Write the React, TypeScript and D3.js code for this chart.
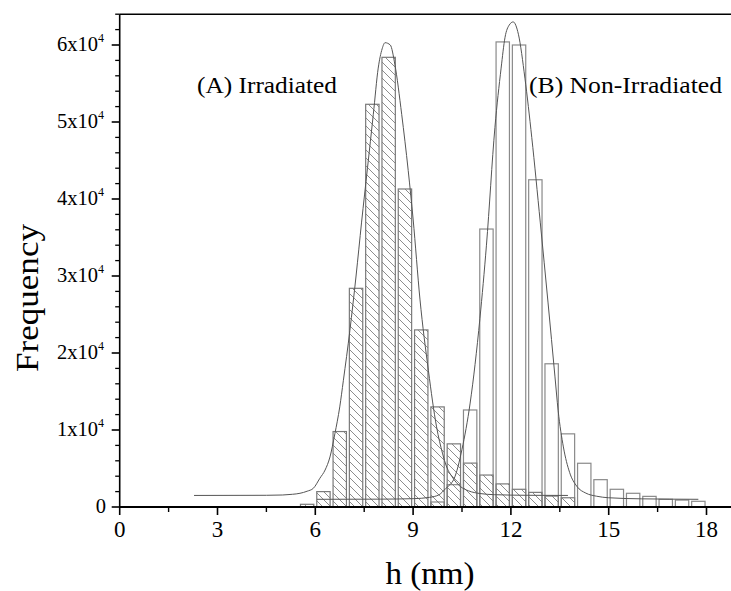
import React from "react";
import * as d3 from "d3";

// ---- data ----
const binCentersA = [5.75, 6.25, 6.75, 7.25, 7.75, 8.25, 8.75, 9.25, 9.75, 10.25, 10.75, 11.25, 11.75, 12.25, 12.75, 13.25, 13.75];
const freqA = [350, 2000, 9800, 28400, 52300, 58400, 41300, 23000, 13000, 8200, 5700, 4150, 3000, 2300, 1900, 1420, 1200];

const binCentersB = [9.75, 10.25, 10.75, 11.25, 11.75, 12.25, 12.75, 13.25, 13.75, 14.25, 14.75, 15.25, 15.75, 16.25, 16.75, 17.25, 17.75];
const freqB = [650, 2900, 12600, 36100, 60400, 60000, 42500, 18600, 9500, 5680, 3550, 2300, 1780, 1380, 1000, 900, 740];

const fitAx = [2.28, 4.5, 5.0, 5.3, 5.53, 5.75, 5.94, 6.14, 6.3, 6.45, 6.6, 6.75, 6.86, 7.06, 7.25, 7.42, 7.6, 7.78, 7.93, 8.05, 8.14, 8.3, 8.44, 8.65, 8.85, 9.0, 9.21, 9.47, 9.72, 9.9, 10.03, 10.2, 10.44, 10.7, 11.05, 11.5, 12.5, 13.75];
const fitAy = [1500, 1520, 1560, 1650, 1780, 2050, 2430, 3730, 4800, 6500, 9500, 13000, 16400, 22900, 30000, 37000, 44000, 51000, 57000, 59500, 60300, 60000, 57500, 51000, 43700, 37400, 27000, 17700, 10400, 7000, 5200, 3900, 2700, 2100, 1750, 1600, 1520, 1500];

const fitBx = [6.05, 8.0, 9.0, 9.5, 9.8, 10.0, 10.13, 10.25, 10.5, 10.75, 11.05, 11.25, 11.51, 11.7, 11.82, 11.95, 12.07, 12.23, 12.43, 12.64, 12.9, 13.14, 13.35, 13.45, 13.61, 13.8, 14.02, 14.3, 14.63, 15.0, 16.0, 17.75];
const fitBy = [1000, 1020, 1080, 1250, 1600, 2400, 2900, 3600, 7500, 13500, 24500, 34000, 49300, 57000, 61000, 62600, 63000, 61400, 55700, 48000, 37000, 26500, 17000, 12500, 7800, 4500, 2700, 1800, 1400, 1200, 1060, 1000];

const xMajorTicks = [0, 3, 6, 9, 12, 15, 18];
const xMinorTicks = [1.5, 4.5, 7.5, 10.5, 13.5, 16.5];
const yMajorTicks = [0, 10000, 20000, 30000, 40000, 50000, 60000];
const yTickMultipliers = ["0", "1", "2", "3", "4", "5", "6"];

const labelA = "(A) Irradiated";
const labelB = "(B) Non-Irradiated";
const xTitle = "h (nm)";
const yTitle = "Frequency";

// ---- layout ----
const W = 731;
const H = 591;
const x0 = 119.7;
const pxPerUnit = 32.6;
const yBase = 507;
const pxPer1e4 = 77;
const yMaxVal = 64000;
const xMaxVal = (W - x0) / pxPerUnit;

const FONT = "'Liberation Serif', 'Times New Roman', serif";

export default function App() {
  const x = d3.scaleLinear().domain([0, xMaxVal]).range([x0, W]);
  const y = d3.scaleLinear().domain([0, yMaxVal]).range([yBase, yBase - (yMaxVal / 10000) * pxPer1e4]);
  const yTop = y(yMaxVal);

  const yMinor = d3.range(2000, yMaxVal + 1, 2000).filter((v) => v % 10000 !== 0);

  const barW = 0.41;
  const line = d3
    .line<[number, number]>()
    .x((d) => x(d[0]))
    .y((d) => y(d[1]))
    .curve(d3.curveMonotoneX);

  const fitA = fitAx.map((v, i) => [v, fitAy[i]] as [number, number]);
  const fitB = fitBx.map((v, i) => [v, fitBy[i]] as [number, number]);

  return (
    <svg
      width={W}
      height={H}
      style={{ position: "absolute", left: 0, top: 0, background: "#fff" }}
      fontFamily={FONT}
    >
      <defs>
        <pattern id="hatch" patternUnits="userSpaceOnUse" width={8} height={8}>
          <path d="M0,0 L8,8 M-2,6 L2,10 M6,-2 L10,2" stroke="#707070" strokeWidth={0.8} />
        </pattern>
      </defs>
      <rect x={0} y={0} width={W} height={H} fill="#fff" />

      {/* Non-irradiated bars */}
      {binCentersB.map((c, i) => (
        <rect
          key={"b" + i}
          x={x(c - barW / 2)}
          y={y(freqB[i])}
          width={x(c + barW / 2) - x(c - barW / 2)}
          height={yBase - y(freqB[i])}
          fill="none"
          stroke="#8a8a8a"
          strokeWidth={1.2}
        />
      ))}

      {/* Irradiated bars (hatched) */}
      {binCentersA.map((c, i) => (
        <rect
          key={"a" + i}
          x={x(c - barW / 2)}
          y={y(freqA[i])}
          width={x(c + barW / 2) - x(c - barW / 2)}
          height={yBase - y(freqA[i])}
          fill="url(#hatch)"
          stroke="#7a7a7a"
          strokeWidth={1.2}
        />
      ))}

      {/* Fit curves */}
      <path d={line(fitA) || ""} fill="none" stroke="#555" strokeWidth={1} />
      <path d={line(fitB) || ""} fill="none" stroke="#555" strokeWidth={1} />

      {/* Frame / axes */}
      <line x1={x0} x2={W} y1={yTop} y2={yTop} stroke="#000" strokeWidth={1.6} />
      <line x1={x0} x2={x0} y1={yTop} y2={yBase} stroke="#000" strokeWidth={1.6} />
      <line x1={x0} x2={W} y1={yBase} y2={yBase} stroke="#000" strokeWidth={2} />

      {/* X ticks */}
      {xMajorTicks.map((t) => (
        <g key={"xt" + t}>
          <line x1={x(t)} x2={x(t)} y1={yBase} y2={yBase + 8} stroke="#000" strokeWidth={1.6} />
          <text x={x(t)} y={537} textAnchor="middle" fontSize={23} fill="#000">
            {t}
          </text>
        </g>
      ))}
      {xMinorTicks.map((t) => (
        <line key={"xm" + t} x1={x(t)} x2={x(t)} y1={yBase} y2={yBase + 5} stroke="#000" strokeWidth={1.4} />
      ))}

      {/* Y ticks */}
      {yMajorTicks.map((t, i) => (
        <g key={"yt" + t}>
          <line x1={x0 - 8} x2={x0} y1={y(t)} y2={y(t)} stroke="#000" strokeWidth={1.6} />
          <text x={t === 0 ? 106 : 104} y={y(t) + 6} textAnchor="end" fontSize={20.5} fill="#000">
            {t === 0 ? (
              "0"
            ) : (
              <>
                {yTickMultipliers[i] + "x10"}
                <tspan fontSize={12} dy={-9}>
                  4
                </tspan>
              </>
            )}
          </text>
        </g>
      ))}
      {yMinor.map((t) => (
        <line key={"ym" + t} x1={x0 - 4.5} x2={x0} y1={y(t)} y2={y(t)} stroke="#000" strokeWidth={1.3} />
      ))}

      {/* Annotations */}
      <text x={197} y={93} fontSize={24} textLength={140} lengthAdjust="spacingAndGlyphs" fill="#000">
        {labelA}
      </text>
      <text x={529} y={93} fontSize={24} textLength={193} lengthAdjust="spacingAndGlyphs" fill="#000">
        {labelB}
      </text>

      {/* Axis titles */}
      <text x={430} y={584} textAnchor="middle" fontSize={32} textLength={89} lengthAdjust="spacingAndGlyphs" fill="#000">
        {xTitle}
      </text>
      <text
        transform={`translate(38, 298) rotate(-90)`}
        textAnchor="middle"
        fontSize={32}
        textLength={148}
        lengthAdjust="spacingAndGlyphs"
        fill="#000"
      >
        {yTitle}
      </text>
    </svg>
  );
}
